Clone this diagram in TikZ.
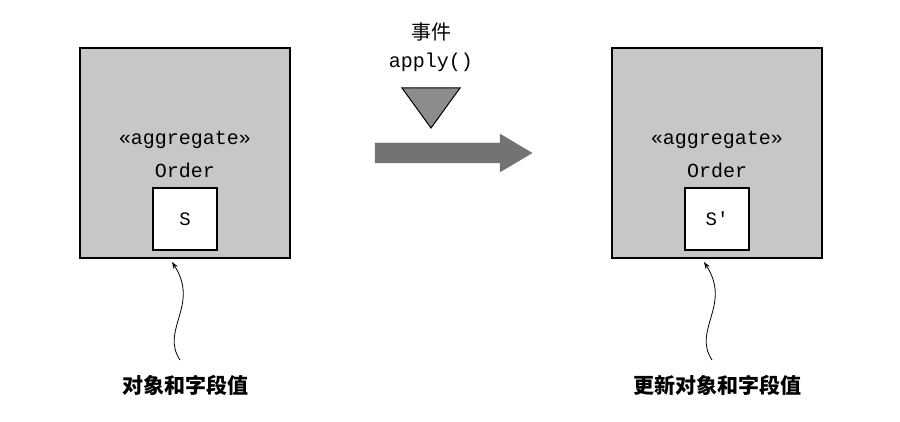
\documentclass[tikz,border=0pt]{standalone}
\usepackage{fontspec}
\setmonofont{Liberation Mono}
\newfontfamily\cjk{Noto Sans CJK SC}
\usetikzlibrary{arrows.meta}
\begin{document}
\begin{tikzpicture}[x=1pt,y=-1pt,
  agg/.style={draw=black,line width=1.2pt,fill=black!22,minimum width=210pt,minimum height=210pt,inner sep=0pt},
  inner/.style={draw=black,line width=1.2pt,fill=white,minimum width=64pt,minimum height=62pt,font=\ttfamily\fontsize{19}{19}\selectfont},
  code/.style={font=\ttfamily\fontsize{20}{20}\selectfont},
  lab/.style={font=\cjk\bfseries\fontsize{21}{21}\selectfont},
  wig/.style={line width=0.8pt}]
\useasboundingbox (0,0) rectangle (900,422);
\node[agg] (A) at (185,153) {};
\node[code] (A1) at (185,140) {«aggregate»};
\node[code] (A2) at (185,170) {Order};
\node[inner] (S1) at (185,219) {S};
\node[agg] (B) at (717,153) {};
\node[code] (B1) at (717,140) {«aggregate»};
\node[code] (B2) at (717,170) {Order};
\node[inner] (S2) at (717,219) {S'};
\node[lab] (L1) at (185,385) {对象和字段值};
\node[lab] (L2) at (717,385) {更新对象和字段值};
\coordinate (c1) at (180,360);
\coordinate (c2) at (712,360);
\draw[wig,-{Stealth[length=7pt,width=5pt]}] (c1) .. controls (160,330) and (200,305) .. (172,262);
\draw[wig,-{Stealth[length=7pt,width=5pt]}] (c2) .. controls (692,330) and (732,305) .. (704,262);
\coordinate (p1) at (375,153);
\coordinate (p2) at (532,153);
\draw[draw=black!55,fill=black!55] (375,143) -- (500,143) -- (500,134) -- (532,153) -- (500,172) -- (500,163) -- (375,163) -- cycle;
\node[font=\cjk\fontsize{20}{20}\selectfont] (E) at (431,32) {事件};
\node[code] (AP) at (431,62) {apply()};
\draw[line width=1pt,fill=black!45] (402,88) -- (460,88) -- (431,128) -- cycle;
\end{tikzpicture}
\end{document}
